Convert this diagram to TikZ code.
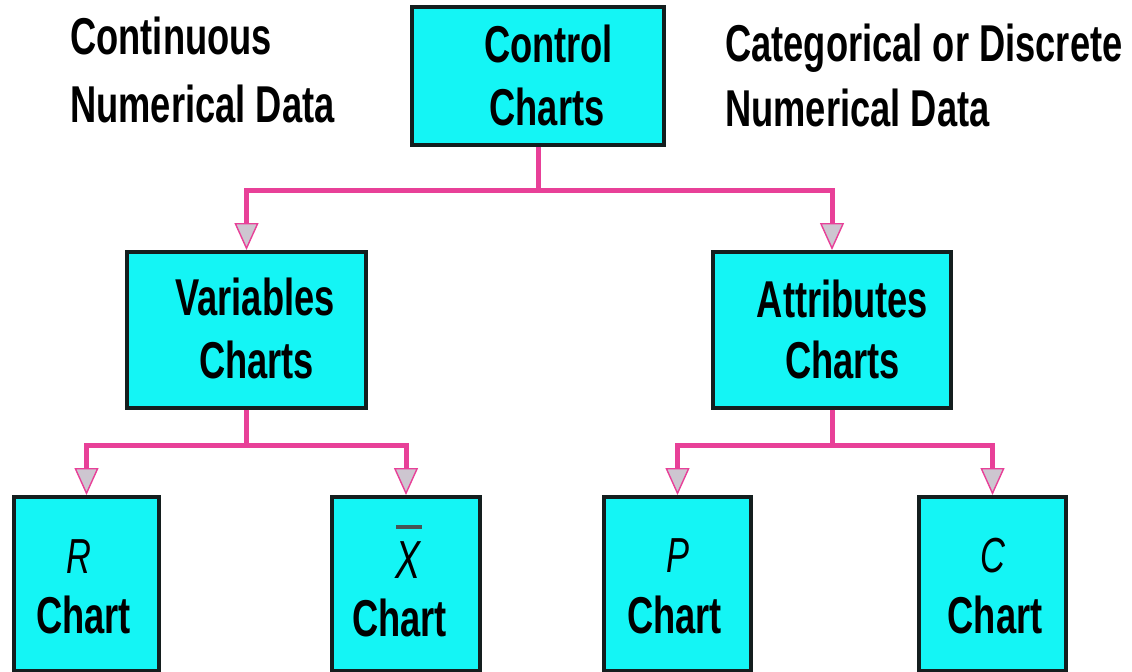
\documentclass[tikz,border=0pt]{standalone}
\usepackage{fontspec}
\setmainfont{Liberation Sans}[FakeStretch=0.70]
\usetikzlibrary{arrows.meta}

\definecolor{boxfill}{RGB}{20,245,245}
\definecolor{boxline}{RGB}{20,30,30}
\definecolor{linkpink}{RGB}{232,64,152}
\definecolor{tipgray}{RGB}{205,198,208}
\definecolor{bardark}{RGB}{70,85,85}

\begin{document}
\begin{tikzpicture}[x=0.02cm, y=-0.02cm,
  chartbox/.style={draw=boxline, fill=boxfill, line width=0.08cm, inner sep=0pt},
  word/.style={anchor=base, inner sep=0pt, text=black,
    font=\fontsize{29.5pt}{35pt}\selectfont\bfseries},
  sideword/.style={word, anchor=base west},
  letter/.style={anchor=base, inner sep=0pt, text=black,
    font=\fontsize{28pt}{34pt}\selectfont\itshape},
  link/.style={draw=linkpink, line width=0.1cm,
    -{Triangle[width=0.48cm, length=0.54cm, fill=tipgray, line width=0.8pt]}}
]
\useasboundingbox (0,0) rectangle (1132,672);
\clip (0,0) rectangle (1132,672);

% boxes
\node[chartbox, minimum width=5.04cm, minimum height=2.76cm] (ctrl) at (538,76) {};
\node[chartbox, minimum width=4.78cm, minimum height=3.12cm] (var)  at (246.5,330) {};
\node[chartbox, minimum width=4.76cm, minimum height=3.12cm] (attr) at (832,330) {};
\node[chartbox, minimum width=2.90cm, minimum height=3.48cm] (rch) at (86.5,584) {};
\node[chartbox, minimum width=2.96cm, minimum height=3.48cm] (xch) at (406,584) {};
\node[chartbox, minimum width=2.94cm, minimum height=3.48cm] (pch) at (677.5,584) {};
\node[chartbox, minimum width=2.94cm, minimum height=3.48cm] (cch) at (992.5,584) {};

% box texts
\node[word] (ctrl1) at (548.5,63) {Control};
\node[word] (ctrl2) at (547,126) {Charts};
\node[word] (var1) at (255,315) {Variables};
\node[word] (var2) at (256.5,378) {Charts};
\node[word] (attr1) at (842.5,317) {Attributes};
\node[word] (attr2) at (842.5,378) {Charts};

\node[letter] (rsym) at (79,573) {R};
\node[word] (rtxt) at (83.5,633) {Chart};
\node[letter, font=\fontsize{30.5pt}{35pt}\selectfont\itshape] (xsym) at (408,578)
  {\rlap{\kern0.02cm\raisebox{0.98cm}{\color{bardark}\rule{0.52cm}{0.08cm}}}X};
\node[word] (xtxt) at (399.5,636) {Chart};
\node[letter] (psym) at (678,572) {P};
\node[word] (ptxt) at (674.5,633) {Chart};
\node[letter] (csym) at (993,572) {C};
\node[word] (ctxt) at (995,633) {Chart};

% side captions
\node[sideword] (cont1) at (70,55) {Continuous};
\node[sideword] (cont2) at (70,123) {Numerical Data};
\node[sideword] (cat1) at (725,62) {Categorical or Discrete};
\node[sideword] (cat2) at (725,127) {Numerical Data};

% connectors
\coordinate (topbar) at (0,191);
\coordinate (lowbar) at (0,445);
\draw[link] (ctrl.south) -- (ctrl.south |- topbar) -| (var.north);
\draw[link] (ctrl.south) -- (ctrl.south |- topbar) -| (attr.north);
\draw[link] (var.south) -- (var.south |- lowbar) -| (rch.north);
\draw[link] (var.south) -- (var.south |- lowbar) -| (xch.north);
\draw[link] (attr.south) -- (attr.south |- lowbar) -| (pch.north);
\draw[link] (attr.south) -- (attr.south |- lowbar) -| (cch.north);
\end{tikzpicture}
\end{document}
